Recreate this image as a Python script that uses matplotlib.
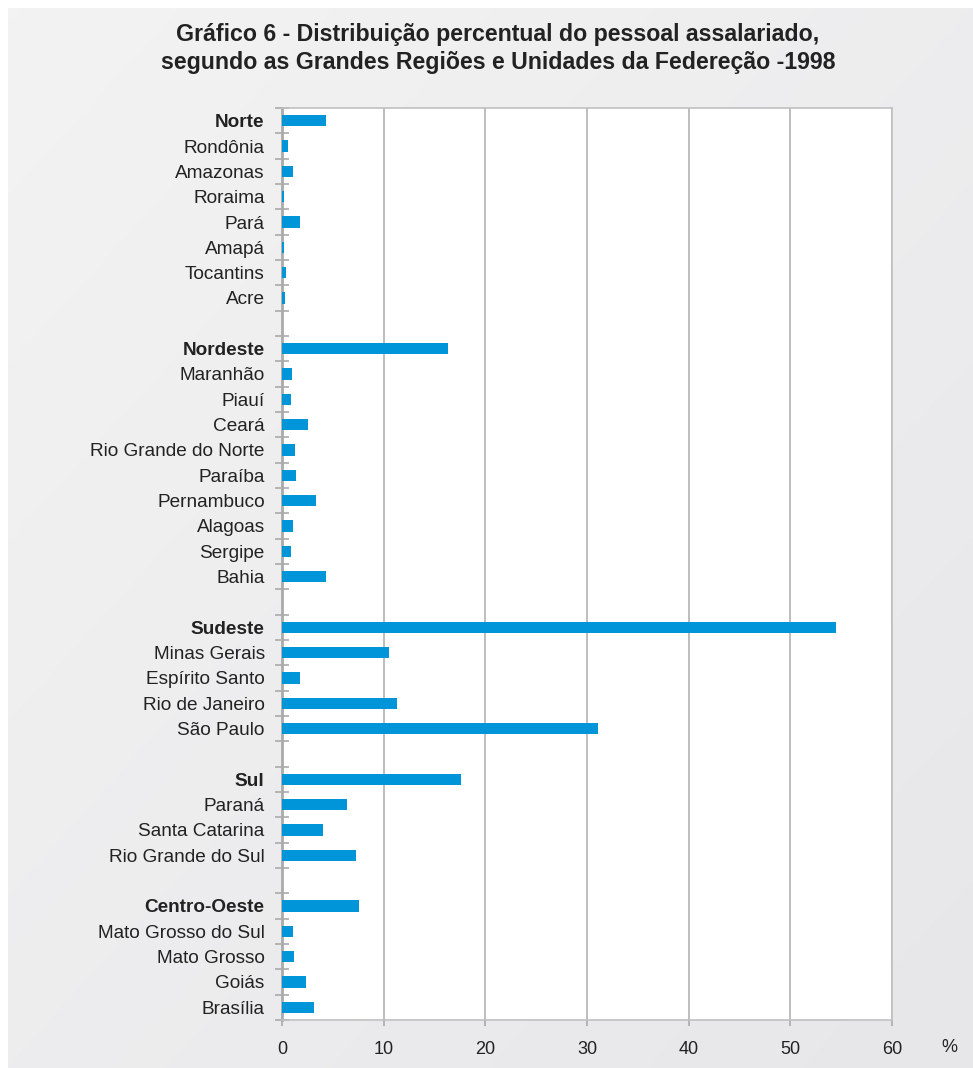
import numpy as np
import matplotlib
matplotlib.use("Agg")
import matplotlib.pyplot as plt

# dados (%)
norte = ["Rondônia", "Amazonas", "Roraima", "Pará", "Amapá", "Tocantins", "Acre"]
norte_val = [0.6, 1.1, 0.2, 1.8, 0.2, 0.4, 0.3]
nordeste = ["Maranhão", "Piauí", "Ceará", "Rio Grande do Norte", "Paraíba",
            "Pernambuco", "Alagoas", "Sergipe", "Bahia"]
nordeste_val = [1.0, 0.9, 2.6, 1.3, 1.4, 3.3, 1.1, 0.9, 4.3]
sudeste = ["Minas Gerais", "Espírito Santo", "Rio de Janeiro", "São Paulo"]
sudeste_val = [10.5, 1.8, 11.3, 31.1]
sul = ["Paraná", "Santa Catarina", "Rio Grande do Sul"]
sul_val = [6.4, 4.0, 7.3]
centro = ["Mato Grosso do Sul", "Mato Grosso", "Goiás", "Brasília"]
centro_val = [1.1, 1.2, 2.4, 3.1]

regioes = ["Norte", "Nordeste", "Sudeste", "Sul", "Centro-Oeste"]
regioes_val = [4.3, 16.3, 54.5, 17.6, 7.6]
estados = [norte, nordeste, sudeste, sul, centro]
estados_val = [norte_val, nordeste_val, sudeste_val, sul_val, centro_val]

xticks = [0, 10, 20, 30, 40, 50, 60]

plt.rcParams["font.family"] = "Liberation Sans"

# monta a lista com uma linha vazia entre os grupos
labels, values, bold = [], [], []
for i, reg in enumerate(regioes):
    labels.append(reg)
    values.append(regioes_val[i])
    bold.append(True)
    for e, v in zip(estados[i], estados_val[i]):
        labels.append(e)
        values.append(v)
        bold.append(False)
    if i < len(regioes) - 1:
        labels.append("")
        values.append(0)
        bold.append(False)

n = len(labels)
ypos = np.arange(n)

fig = plt.figure(figsize=(9.73, 10.68), dpi=100)

# fundo cinza com degrade
bg = fig.add_axes([8 / 973, 0, 1 - 8 / 973, 1 - 8 / 1068])
gx, gy = np.meshgrid(np.linspace(0, 1, 200), np.linspace(0, 1, 200))
grad = (gx + gy) / 2
bg.imshow(grad, cmap=matplotlib.colors.LinearSegmentedColormap.from_list(
    "bg", ["#f3f3f3", "#e7e7ea"]), aspect="auto", extent=[0, 1, 1, 0])
bg.axis("off")

ax = fig.add_axes([282 / 973, 48 / 1068, 610 / 973, 912 / 1068])
ax.set_facecolor("white")
ax.barh(ypos, values, height=0.44, color="#0095d8", zorder=3)
ax.set_xlim(0, 60)
ax.set_ylim(n - 0.5, -0.5)

ax.set_xticks(xticks)
ax.set_xticklabels([str(t) for t in xticks], fontsize=13, color="#222222")
ax.tick_params(axis="x", length=4, color="#aaaaaa", width=1.2, pad=11)
ax.xaxis.grid(True, color="#b8b8b8", linewidth=1.3, zorder=1)

ax.set_yticks(ypos)
ax.set_yticklabels(labels, fontsize=13.7, color="#222222")
for t, b in zip(ax.get_yticklabels(), bold):
    if b:
        t.set_fontweight("bold")
ax.tick_params(axis="y", which="major", length=0, pad=12.5)
ax.set_yticks(np.arange(n + 1) - 0.5, minor=True)
ax.tick_params(axis="y", which="minor", length=10, direction="inout",
               color="#aaaaaa", width=1.2)

for s in ["top", "right", "bottom"]:
    ax.spines[s].set_color("#c0c0c0")
    ax.spines[s].set_linewidth(1.2)
ax.spines["left"].set_color("#aaaaaa")
ax.spines["left"].set_linewidth(2)

fig.text(949 / 973, 1 - 1047 / 1068, "%", fontsize=13, color="#222222",
         ha="center", va="center")

fig.text(498 / 973, 1 - 34 / 1068,
         "Gráfico 6 - Distribuição percentual do pessoal assalariado,",
         fontsize=16.7, fontweight="bold", color="#222222", ha="center", va="center")
fig.text(498 / 973, 1 - 62 / 1068,
         "segundo as Grandes Regiões e Unidades da Federeção -1998",
         fontsize=16.7, fontweight="bold", color="#222222", ha="center", va="center")

fig.savefig("out.png", dpi=100)
